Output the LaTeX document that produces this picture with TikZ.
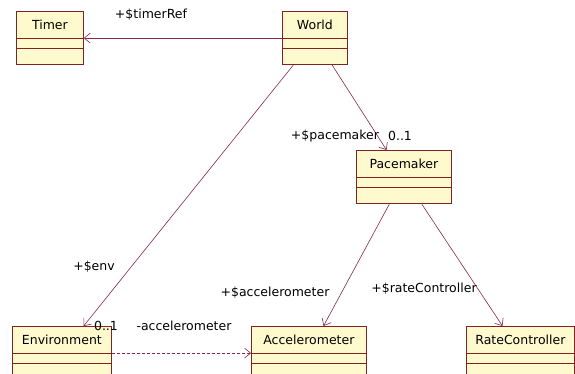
\documentclass[tikz,border=0pt]{standalone}
\usepackage{fontspec}
\setmainfont{DejaVu Sans}
\usepackage{xcolor}
\usetikzlibrary{shapes.multipart,arrows.meta}
\definecolor{classfill}{RGB}{255,250,205}
\definecolor{classdraw}{RGB}{130,35,35}
\definecolor{linkcol}{RGB}{130,40,85}
\newcommand{\umlbox}[1]{\rule[-8pt]{0pt}{26pt}#1\nodepart{two}\rule{0pt}{9pt}\nodepart{three}\rule{0pt}{16pt}}

\begin{document}
\begin{tikzpicture}[x=1pt,y=-1pt,
  font=\fontsize{12.5}{15}\selectfont,
  umlclass/.style={rectangle split, rectangle split parts=3, draw=classdraw,
    fill=classfill, line width=0.8pt, inner xsep=2pt, inner ysep=0pt, anchor=north west},
  assoc/.style={draw=linkcol, line width=0.6pt, -{Straight Barb[length=6pt,width=10pt]}},
  role/.style={inner sep=0pt}]
% Frame
\useasboundingbox (0,0) rectangle (575,374);
\fill[white] (0,0) rectangle (575,374);
% Classes
\node[umlclass, minimum width=67pt] (timer) at (16,11) {\umlbox{Timer}};
\node[umlclass, minimum width=65pt] (world) at (282,11) {\umlbox{World}};
\node[umlclass, minimum width=95pt] (pacemaker) at (356,150) {\umlbox{Pacemaker}};
\node[umlclass, minimum width=99pt] (env) at (12,326) {\umlbox{Environment}};
\node[umlclass, minimum width=115pt] (accel) at (251,326) {\umlbox{Accelerometer}};
\node[umlclass, minimum width=108pt] (ratectl) at (466,326) {\umlbox{RateController}};
% Associations
\draw[assoc] (world) -- (timer);
\draw[assoc] (world) -- (pacemaker);
\draw[assoc] (world) -- (env);
\draw[assoc] (pacemaker) -- (accel);
\draw[assoc] (pacemaker) -- (ratectl);
\draw[assoc, dash pattern=on 3pt off 2pt] (env) -- (accel);
% Role names
\node[role] (timerref) at (151,15) {+\$timerRef};
\node[role] (pmrole) at (335,136) {+\$pacemaker};
\node[role] (pmmult) at (400,136) {0..1};
\node[role] (envrole) at (94,267) {+\$env};
\node[role] (accrole) at (275,293) {+\$accelerometer};
\node[role] (rcrole) at (424,289) {+\$rateController};
\node[role] (accmult) at (106,326) {0..1};
\node[role] (accpriv) at (184,326) {-accelerometer};
\end{tikzpicture}
\end{document}
